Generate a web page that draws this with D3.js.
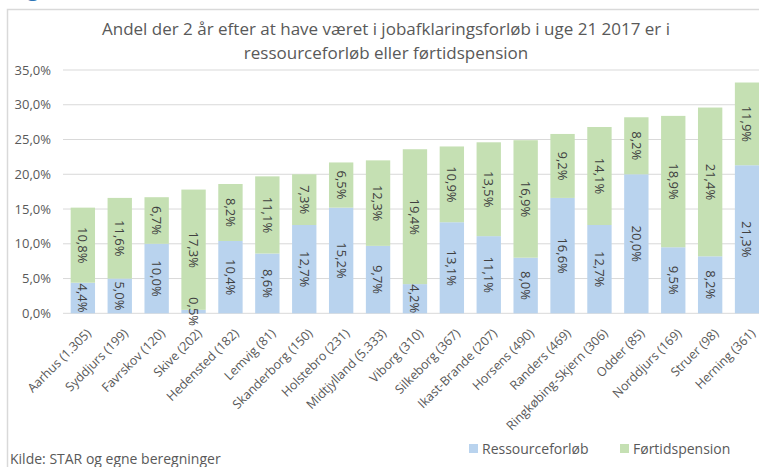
<!DOCTYPE html>
<html>
<head>
<meta charset="utf-8">
<script src="https://cdn.jsdelivr.net/npm/d3@7"></script>
<style>
	body { margin: 0; background: #fff; }
	svg { display: block; font-family: "Open Sans", "Liberation Sans", sans-serif; }
</style>
</head>
<body>
<svg width="759" height="467"></svg>
<script>
var categories = ['Aarhus (1.305)', 'Syddjurs (199)', 'Favrskov (120)', 'Skive (202)', 'Hedensted (182)',
	'Lemvig (81)', 'Skanderborg (150)', 'Holstebro (231)', 'Midtjylland (5.333)', 'Viborg (310)',
	'Silkeborg (367)', 'Ikast-Brande (207)', 'Horsens (490)', 'Randers (469)', 'Ringkøbing-Skjern (306)',
	'Odder (85)', 'Norddjurs (169)', 'Struer (98)', 'Herning (361)'];
var ressource = [4.4, 5.0, 10.0, 0.5, 10.4, 8.6, 12.7, 15.2, 9.7, 4.2, 13.1, 11.1, 8.0, 16.6, 12.7, 20.0, 9.5, 8.2, 21.3];
var foertid = [10.8, 11.6, 6.7, 17.3, 8.2, 11.1, 7.3, 6.5, 12.3, 19.4, 10.9, 13.5, 16.9, 9.2, 14.1, 8.2, 18.9, 21.4, 11.9];
var yTicks = [0, 5, 10, 15, 20, 25, 30, 35];
var seriesNames = ['Ressourceforløb', 'Førtidspension'];
var seriesColors = ['#b9d3ee', '#c5e0b3'];
var titleLines = ['Andel der 2 år efter at have været i jobafklaringsforløb i uge 21 2017 er i',
	'ressourceforløb eller førtidspension'];

function renderChart() {
	var svg = d3.select('svg');
	var txtCol = '#595959';
	var fmt = function(v) { return v.toFixed(1).replace('.', ',') + '%'; };

	// caption above the frame, mostly outside the picture
	svg.append('text')
		.attr('x', 10).attr('y', -4)
		.style('font-size', '22px')
		.style('fill', '#2e75b6')
		.text('Figur 5');

	// chart frame
	svg.append('rect')
		.attr('x', 7.5).attr('y', 9.5)
		.attr('width', 800).attr('height', 500)
		.style('fill', 'none')
		.style('stroke', '#d9d9d9')
		.style('stroke-width', '1.5px');

	svg.selectAll('text.title')
		.data(titleLines)
		.enter().append('text')
		.attr('class', 'title')
		.attr('x', 386)
		.attr('y', function(d, i) { return 35 + i * 24; })
		.attr('text-anchor', 'middle')
		.style('font-size', '17px')
		.style('fill', txtCol)
		.text(function(d) { return d; });

	var x = d3.scaleBand()
		.domain(categories)
		.range([64.4, 765.5])
		.paddingInner(0.34)
		.paddingOuter(0.17);
	var y = d3.scaleLinear().domain([0, 35]).range([313.3, 70]);

	var g_grid = svg.append('g');
	g_grid.selectAll('line')
		.data(yTicks)
		.enter().append('line')
		.attr('x1', 63).attr('x2', 759)
		.attr('y1', function(d) { return y(d); })
		.attr('y2', function(d) { return y(d); })
		.style('stroke', '#d9d9d9')
		.style('stroke-width', '1px');

	var yAxis = d3.axisLeft(y)
		.tickValues(yTicks)
		.tickSize(0)
		.tickPadding(0)
		.tickFormat(fmt);
	var g_y = svg.append('g')
		.attr('transform', 'translate(51,0)')
		.call(yAxis);
	g_y.select('.domain').remove();
	g_y.selectAll('text')
		.style('font-size', '13px')
		.style('font-family', '"Open Sans", sans-serif')
		.style('fill', txtCol);

	var rows = categories.map(function(c, i) {
		return {cat: c, ressource: ressource[i], foertid: foertid[i]};
	});
	var stack = d3.stack().keys(['ressource', 'foertid'])(rows);

	var g_bars = svg.append('g');
	var g_lbls = svg.append('g');
	stack.forEach(function(layer, li) {
		g_bars.append('g').selectAll('rect')
			.data(layer)
			.enter().append('rect')
			.attr('x', function(d) { return x(d.data.cat); })
			.attr('width', x.bandwidth())
			.attr('y', function(d) { return y(d[1]); })
			.attr('height', function(d) { return y(d[0]) - y(d[1]); })
			.style('fill', seriesColors[li]);
		g_lbls.append('g').selectAll('text')
			.data(layer)
			.enter().append('text')
			.attr('transform', function(d) {
				var cx = x(d.data.cat) + x.bandwidth() / 2;
				var cy = (y(d[0]) + y(d[1])) / 2;
				return 'translate(' + cx + ',' + cy + ') rotate(90)';
			})
			.attr('text-anchor', 'middle')
			.attr('dy', '0.35em')
			.style('font-size', '13px')
			.style('fill', '#404040')
			.text(function(d) { return fmt(d[1] - d[0]); });
	});

	// category labels at -45deg
	var g_x = svg.append('g');
	g_x.selectAll('text')
		.data(categories)
		.enter().append('text')
		.attr('transform', function(d) {
			var cx = x(d) + x.bandwidth() / 2 + 6;
			return 'translate(' + cx + ',331) rotate(-45)';
		})
		.attr('text-anchor', 'end')
		.attr('dy', '0.35em')
		.style('font-size', '12.5px')
		.style('fill', txtCol)
		.text(function(d) { return d; });

	// legend
	var legX = [469, 620];
	seriesNames.forEach(function(name, i) {
		svg.append('rect')
			.attr('x', legX[i]).attr('y', 444)
			.attr('width', 9).attr('height', 9)
			.style('fill', seriesColors[i]);
		svg.append('text')
			.attr('x', legX[i] + 13).attr('y', 454)
			.style('font-size', '14px')
			.style('fill', txtCol)
			.text(name);
	});

	svg.append('text')
		.attr('x', 10).attr('y', 464)
		.style('font-size', '14px')
		.style('fill', txtCol)
		.text('Kilde: STAR og egne beregninger');
}

renderChart();
</script>
</body>
</html>
